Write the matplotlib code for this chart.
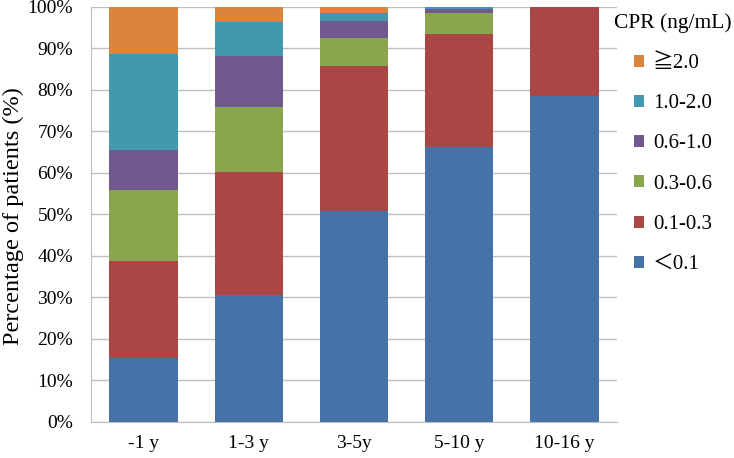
import matplotlib
matplotlib.use("Agg")
import matplotlib.pyplot as plt
from matplotlib.patches import Patch
import numpy as np

categories = ["-1 y", "1-3 y", "3-5y", "5-10 y", "10-16 y"]
series_names = ["＜0.1", "0.1-0.3", "0.3-0.6", "0.6-1.0", "1.0-2.0", "≧2.0"]
lt01 = [15.4, 30.4, 50.8, 66.2, 78.5]
r01_03 = [23.2, 29.7, 35.0, 27.2, 21.5]
r03_06 = [17.2, 15.8, 6.7, 5.2, 0.0]
r06_10 = [9.7, 12.1, 4.1, 0.8, 0.0]
r10_20 = [23.0, 8.2, 1.8, 0.6, 0.0]
ge20 = [11.5, 3.8, 1.6, 0.0, 0.0]
series_values = [lt01, r01_03, r03_06, r06_10, r10_20, ge20]
colors = ["#4572A7", "#AA4643", "#89A54E", "#71588F", "#4198AF", "#DB843D"]
yticks = [0, 10, 20, 30, 40, 50, 60, 70, 80, 90, 100]

FONT = ["Liberation Serif", "Noto Sans CJK JP", "DejaVu Serif"]
plt.rcParams["font.family"] = FONT

W, H = 734, 458
fig = plt.figure(figsize=(W / 100, H / 100), dpi=100)
ax = fig.add_axes([91 / W, 1 - 421.5 / H, (617 - 91) / W, (421.5 - 6.7) / H])

x = np.arange(len(categories))
bottom = np.zeros(len(categories))
for name, vals, c in zip(series_names, series_values, colors):
    v = np.array(vals)
    ax.bar(x, v, bottom=bottom, width=0.65, color=c, label=name, zorder=3)
    bottom += v

ax.set_xlim(-0.5, len(categories) - 0.5)
ax.set_ylim(0, 100)
ax.set_yticks(yticks)
ax.set_yticklabels([f"{t}%" for t in yticks])
ax.set_xticks(x)
ax.set_xticklabels(categories)
ax.tick_params(axis="both", length=0, labelsize=14, colors="black")
ax.tick_params(axis="y", pad=13)
ax.tick_params(axis="x", pad=10)
ax.yaxis.grid(True, color="#BFBFBF", linewidth=1.0, zorder=0)
for s in ["top", "right"]:
    ax.spines[s].set_visible(False)
ax.spines["left"].set_color("#BFBFBF")
ax.spines["bottom"].set_color("#BFBFBF")

fig.text(13 / W, 1 - 216 / H, "Percentage of patients (%)", fontsize=17.5,
         rotation=90, ha="center", va="center")

fig.text(614 / W, 1 - 23 / H, "CPR (ng/mL)", fontsize=15.5, va="center", ha="left")
handles = [Patch(facecolor=c, edgecolor="none") for c in colors][::-1]
labels = series_names[::-1]
leg = fig.legend(handles, labels, loc="upper left",
                 bbox_to_anchor=(634 / W, 1 - 54 / H),
                 frameon=False, fontsize=15, handlelength=0.5, handleheight=0.5,
                 handletextpad=0.4, labelspacing=1.02, borderpad=0, borderaxespad=0)

fig.savefig("out.png", dpi=100)
